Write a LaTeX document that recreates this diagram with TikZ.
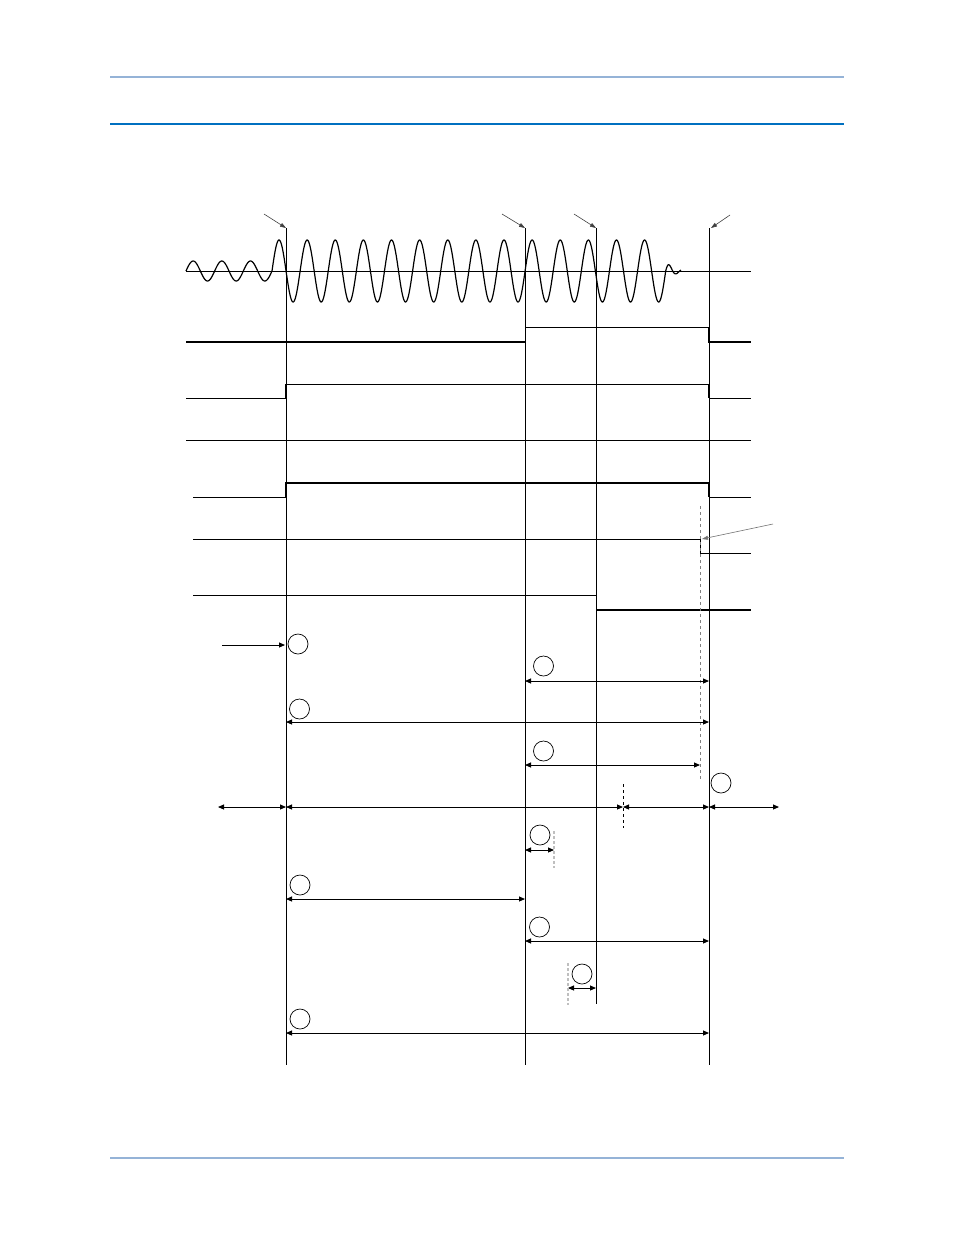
\documentclass[tikz,border=0pt]{standalone}
\usetikzlibrary{arrows.meta}
\definecolor{hdrlight}{HTML}{95B3D7}
\definecolor{hdrblue}{HTML}{0070C0}
\begin{document}
\begin{tikzpicture}
        [x=1pt,y=-1pt,every node/.style={draw,shape=circle,inner sep=0,minimum size=20pt,line width=0.7pt},
         sig/.style={line width=0.9pt,black}, heavy/.style={line width=2pt,black},
         dim/.style={line width=0.9pt,{Triangle[length=6pt,width=5pt]}-{Triangle[length=6pt,width=5pt]}},
         ptr/.style={line width=0.6pt,black!75,-{Triangle[length=6pt,width=4pt]}},
         guide/.style={dashed,line width=0.6pt,gray},
         faint/.style={dash pattern=on 3pt off 2pt,line width=1.6pt,black!25}]

        \useasboundingbox (0,0) rectangle (954,1235);

        \draw[hdrlight,line width=2pt] (110,77) -- (844,77);
        \draw[hdrblue,line width=1.3pt] (110,124) -- (844,124);
        \draw[hdrlight,line width=1.3pt] (110,1158) -- (844,1158);

        \coordinate (t1) at (286,228);
        \coordinate (t2) at (525,228);
        \coordinate (t3) at (596,228);
        \coordinate (t4) at (709,228);
        \coordinate (t1b) at (286,1065);
        \coordinate (t2b) at (525,1065);
        \coordinate (t3b) at (596,1004);
        \coordinate (t4b) at (709,1065);

        \draw[sig] (t1) -- (t1b);
        \draw[sig] (t2) -- (t2b);
        \draw[sig] (t3) -- (t3b);
        \draw[sig] (t4) -- (t4b);

        \coordinate (p1) at (264,214);
        \coordinate (p2) at (502,214);
        \coordinate (p3) at (574,214);
        \coordinate (p4) at (730,215);
        \draw[ptr] (p1) -- (t1);
        \draw[ptr] (p2) -- (t2);
        \draw[ptr] (p3) -- (t3);
        \draw[ptr] (p4) -- ([xshift=2pt]t4);

        \draw[sig] (186,271) -- (751,271);
        \draw[line width=1.2pt] plot[domain=186:272,samples=120] (\x,{271-10*sin(12.558*(\x-186))});
        \draw[line width=1.2pt] plot[domain=272:665.7,samples=700] (\x,{271-31*sin(12.802*(\x-272))});
        \draw[line width=1.2pt] plot[domain=665.7:681,samples=40] (\x,{271-9*exp(-(\x-665.7)/9)*sin(25.714*(\x-665.7))});

        \draw[heavy] (186,342) -- (525,342);
        \draw[sig] (525,327) -- (709,327);
        \draw[heavy] (709,327) -- (709,342) -- (751,342);

        \draw[sig] (186,398) -- (286,398);
        \draw[heavy] (286,398) -- (286,384);
        \draw[sig] (286,384) -- (709,384);
        \draw[heavy] (709,384) -- (709,398);
        \draw[sig] (709,398) -- (751,398);

        \draw[sig] (186,440) -- (751,440);

        \draw[sig] (193,497) -- (286,497);
        \draw[heavy] (286,497) -- (286,483) -- (709,483) -- (709,497);
        \draw[sig] (709,497) -- (751,497);

        \draw[sig] (193,539) -- (700,539) -- (700,553) -- (751,553);
        \draw[sig] (193,595) -- (596,595);
        \draw[heavy] (596,610) -- (751,610);

        \draw[guide] (700,506) -- (700,780);
        \coordinate (q1) at (773,524);
        \coordinate (q2) at (702,539);
        \draw[ptr,black!55] (q1) -- (q2);

        \node (c1) at (298,644) {};
        \node (c2) at (543.5,666) {};
        \node (c3) at (299.5,709) {};
        \node (c4) at (543.5,751) {};
        \node (c5) at (721,783) {};
        \node (c6) at (540,835) {};
        \node (c7) at (300,885) {};
        \node (c8) at (539.5,927) {};
        \node (c9) at (582,974) {};
        \node (c10) at (300,1019) {};

        \coordinate (a0) at (222,645);
        \coordinate (a1) at (285,645);
        \draw[sig,-{Triangle[length=6pt,width=5pt]}] (a0) -- (a1);

        \coordinate (d1a) at (525,681);
        \coordinate (d1b) at (709,681);
        \coordinate (d2a) at (286,722);
        \coordinate (d2b) at (709,722);
        \coordinate (d3a) at (525,765);
        \coordinate (d3b) at (700,765);
        \coordinate (e0) at (218,807);
        \coordinate (e1) at (286,807);
        \coordinate (e2) at (623,807);
        \coordinate (e3) at (709,807);
        \coordinate (e4) at (779,807);
        \coordinate (d4a) at (525,850);
        \coordinate (d4b) at (554,850);
        \coordinate (d5a) at (286,899);
        \coordinate (d5b) at (525,899);
        \coordinate (d6a) at (525,941);
        \coordinate (d6b) at (709,941);
        \coordinate (d7a) at (568,988);
        \coordinate (d7b) at (596,988);
        \coordinate (d8a) at (286,1033);
        \coordinate (d8b) at (709,1033);

        \draw[dim] (d1a) -- (d1b);
        \draw[dim] (d2a) -- (d2b);
        \draw[dim] (d3a) -- (d3b);
        \draw[dim] (e0) -- (e1);
        \draw[dim] (e1) -- (e2);
        \draw[dim] (e2) -- (e3);
        \draw[dim] (e3) -- (e4);
        \draw[dim] (d4a) -- (d4b);
        \draw[dim] (d5a) -- (d5b);
        \draw[dim] (d6a) -- (d6b);
        \draw[dim] (d7a) -- (d7b);
        \draw[dim] (d8a) -- (d8b);

        \draw[dashed,line width=0.7pt] (623,784) -- (623,828);
        \draw[faint] (554,831) -- (554,868);
        \draw[faint] (568,963) -- (568,1005);
      \end{tikzpicture}
\end{document}
